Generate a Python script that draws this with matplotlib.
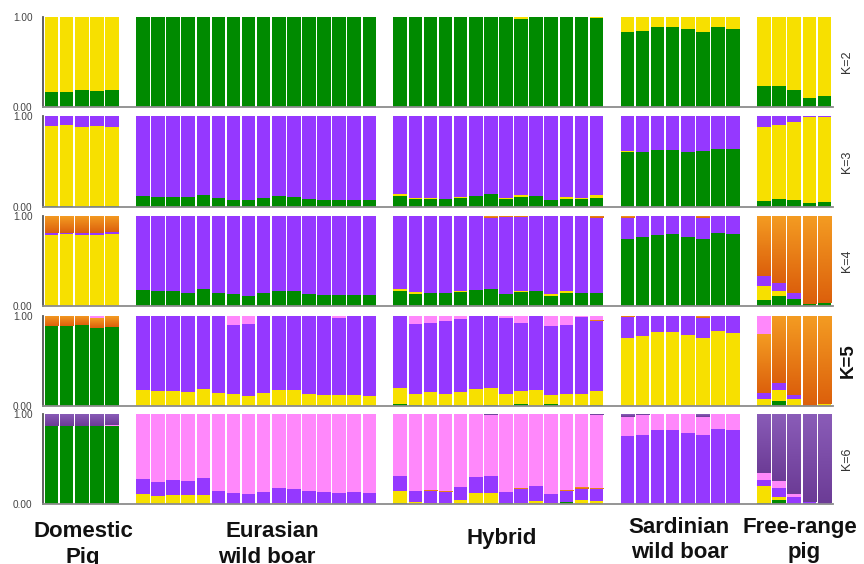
import numpy as np
import matplotlib
matplotlib.use('Agg')
import matplotlib.pyplot as plt
from matplotlib.colors import LinearSegmentedColormap

plt.rcParams['font.family'] = ['Liberation Sans', 'DejaVu Sans']

# groups along the x axis
group_lines = [['Domestic', 'Pig'], ['Eurasian', 'wild boar'], ['Hybrid'],
               ['Sardinian', 'wild boar'], ['Free-range', 'pig']]
group_sizes = [5, 16, 14, 8, 5]
k_labels = ['K=2', 'K=3', 'K=4', 'K=5', 'K=6']

GREEN = '#008a00'
YELLOW = '#f7e000'
PURPLE = '#9538ff'
ORANGE = '#e87a14'
PINK = '#ff88fb'
DPURPLE = '#7e4dac'

# ancestry fractions per individual: dom(5) | eur(16) | hyb(14) | sar(8) | free(5)
# None = remainder of the bar

# K=2
k2_green = [0.17, 0.17, 0.185, 0.175, 0.19,
            1, 1, 1, 1, 1, 1, 1, 1, 1, 1, 1, 1, 1, 1, 1, 1,
            1, 1, 1, 1, 1, 1, 1, 1, 0.98, 1, 1, 1, 1, 0.99,
            0.83, 0.85, 0.89, 0.89, 0.87, 0.83, 0.89, 0.87,
            0.23, 0.23, 0.19, 0.10, 0.12]

# K=3
k3_green = [0.007, 0.007, 0.003, 0.007, 0.015,
            0.118, 0.110, 0.110, 0.110, 0.129, 0.103, 0.081, 0.074,
            0.103, 0.118, 0.110, 0.092, 0.081, 0.081, 0.081, 0.081,
            0.118, 0.092, 0.092, 0.092, 0.103, 0.121, 0.140, 0.085, 0.110, 0.121, 0.081, 0.092, 0.092, 0.100,
            0.607, 0.607, 0.625, 0.625, 0.607, 0.614, 0.632, 0.632,
            0.066, 0.092, 0.074, 0.044, 0.055]
k3_yellow = [0.883, 0.893, 0.879, 0.883, 0.867,
             0, 0, 0, 0, 0, 0, 0, 0, 0, 0, 0, 0, 0, 0, 0, 0,
             0.022, 0.010, 0.005, 0, 0.005, 0.005, 0.008, 0.018, 0.018, 0, 0, 0.015, 0.005, 0.030,
             0.006, 0, 0, 0, 0, 0.006, 0, 0,
             0.809, 0.809, 0.863, 0.941, 0.930]

# K=4
k4_green = [0, 0, 0, 0, 0,
            0.179, 0.168, 0.168, 0.150, 0.190, 0.147, 0.136, 0.114,
            0.150, 0.168, 0.168, 0.136, 0.125, 0.125, 0.125, 0.125,
            0.172, 0.136, 0.150, 0.147, 0.154, 0.180, 0.190, 0.136, 0.154, 0.172, 0.110, 0.139, 0.147, 0.147,
            0.740, 0.762, 0.788, 0.795, 0.769, 0.740, 0.806, 0.795,
            0.066, 0.110, 0.080, 0.018, 0.030]
k4_yellow = [0.791, 0.798, 0.791, 0.791, 0.805,
             0, 0, 0, 0, 0, 0, 0, 0, 0, 0, 0, 0, 0, 0, 0, 0,
             0.022, 0.015, 0, 0, 0.010, 0, 0, 0, 0.015, 0, 0.018, 0.025, 0, 0,
             0, 0, 0, 0, 0, 0, 0, 0,
             0.154, 0.055, 0, 0, 0]
k4_orange = [0.194, 0.187, 0.194, 0.194, 0.180,
             0, 0, 0, 0, 0, 0, 0, 0, 0, 0, 0, 0, 0, 0, 0, 0,
             0, 0, 0, 0, 0, 0, 0.018, 0.008, 0.008, 0, 0, 0, 0, 0.025,
             0.018, 0.005, 0, 0, 0, 0.025, 0, 0,
             0.670, 0.743, 0.861, 0.982, 0.970]

# K=5
k5_green = [0.885, 0.885, 0.896, 0.867, 0.878,
            0.005, 0.005, 0.005, 0.005, 0.005, 0.015, 0.005, 0.005,
            0.005, 0.005, 0.005, 0.005, 0.005, 0.005, 0.005, 0.005,
            0.022, 0.007, 0.005, 0, 0, 0, 0.007, 0, 0.018, 0, 0.018, 0, 0, 0.007,
            0, 0, 0, 0, 0, 0, 0, 0,
            0.015, 0.052, 0, 0.005, 0]
k5_yellow = [0, 0, 0, 0, 0,
             0.176, 0.162, 0.162, 0.151, 0.188, 0.133, 0.125, 0.106,
             0.143, 0.169, 0.169, 0.125, 0.114, 0.114, 0.114, 0.106,
             0.178, 0.130, 0.148, 0.137, 0.155, 0.185, 0.190, 0.137, 0.148, 0.174, 0.100, 0.137, 0.137, 0.155,
             0.756, 0.774, 0.822, 0.822, 0.785, 0.756, 0.830, 0.811,
             0.059, 0.122, 0.074, 0, 0.018]
k5_orange = [0.115, 0.115, 0.104, 0.111, 0.122,
             0, 0, 0, 0, 0, 0, 0, 0, 0, 0, 0, 0, 0, 0, 0, 0,
             0, 0, 0, 0, 0, 0, 0, 0, 0, 0, 0, 0, 0, 0.007,
             0.010, 0, 0, 0, 0, 0.022, 0, 0,
             0.652, 0.745, 0.882, 0.995, 0.982]
k5_pink = [0, 0, 0, 0.022, 0,
           0, 0, 0, 0, 0, 0, 0.096, 0.085, 0, 0, 0, 0.005, 0, 0.022, 0, 0,
           0, 0.085, 0.074, 0.055, 0.037, 0, 0, 0.018, 0.074, 0, 0.111, 0.104, 0.010, 0.048,
           0, 0, 0, 0, 0, 0, 0, 0,
           0.204, 0, 0, 0, 0]

# K=6
k6_green = [0.863, 0.863, 0.863, 0.863, 0.864,
            0, 0, 0, 0, 0, 0, 0, 0, 0, 0, 0, 0, 0.005, 0, 0, 0,
            0.010, 0, 0.005, 0, 0, 0, 0, 0.007, 0.005, 0, 0, 0.022, 0, 0,
            0, 0, 0, 0, 0, 0, 0, 0,
            0.010, 0.040, 0, 0, 0]
k6_yellow = [0, 0, 0, 0, 0,
             0.111, 0.085, 0.104, 0.104, 0.104, 0.005, 0, 0, 0.005, 0.007, 0.005, 0, 0.010, 0, 0.005, 0,
             0.130, 0.018, 0.005, 0.007, 0.048, 0.122, 0.122, 0, 0.010, 0.030, 0.010, 0, 0.048, 0.030,
             0.005, 0, 0, 0, 0, 0, 0, 0,
             0.193, 0.037, 0, 0, 0]
k6_purple = [0, 0, 0, 0, 0,
             0.170, 0.156, 0.159, 0.152, 0.185, 0.137, 0.119, 0.107,
             0.133, 0.167, 0.167, 0.148, 0.120, 0.118, 0.130, 0.118,
             0.167, 0.122, 0.130, 0.126, 0.137, 0.174, 0.185, 0.130, 0.148, 0.167, 0.104, 0.119, 0.119, 0.137,
             0.747, 0.770, 0.819, 0.826, 0.789, 0.763, 0.837, 0.819,
             0.059, 0.100, 0.078, 0.018, 0.015]
k6_orange = [0, 0, 0, 0, 0,
             0, 0, 0, 0, 0, 0, 0, 0, 0, 0, 0, 0, 0, 0, 0, 0,
             0, 0, 0.007, 0.007, 0, 0, 0, 0, 0.007, 0, 0, 0.010, 0.018, 0.007,
             0, 0, 0, 0, 0, 0, 0, 0,
             0, 0, 0, 0, 0]
k6_dpurple = [0.137, 0.137, 0.137, 0.137, 0.118,
              0, 0, 0, 0, 0, 0, 0, 0, 0, 0, 0, 0, 0, 0, 0, 0,
              0, 0, 0, 0, 0, 0, 0.015, 0, 0, 0, 0, 0, 0, 0.015,
              0.033, 0.015, 0, 0, 0, 0.033, 0, 0,
              0.656, 0.741, 0.885, 0.982, 0.985]

rows = [
    [(GREEN, k2_green), (YELLOW, None)],
    [(GREEN, k3_green), (YELLOW, k3_yellow), (PURPLE, None)],
    [(GREEN, k4_green), (YELLOW, k4_yellow), (PURPLE, None), (ORANGE, k4_orange)],
    [(GREEN, k5_green), (YELLOW, k5_yellow), (PURPLE, None), (ORANGE, k5_orange), (PINK, k5_pink)],
    [(GREEN, k6_green), (YELLOW, k6_yellow), (PURPLE, k6_purple), (ORANGE, k6_orange),
     (PINK, None), (DPURPLE, k6_dpurple)],
]

gradients = {
    ORANGE: LinearSegmentedColormap.from_list('org', ['#f49c22', '#dc600c']),
    DPURPLE: LinearSegmentedColormap.from_list('dpu', ['#8a5cb8', '#6c3c96']),
}
grad = np.linspace(0, 1, 64).reshape(-1, 1)

GAP = 1.05
xpos = []
start = 0
for g, n in enumerate(group_sizes):
    for j in range(n):
        xpos.append(start + j + g * GAP)
    start += n
xpos = np.array(xpos) + 0.05
xmax = sum(group_sizes) + (len(group_sizes) - 1) * GAP

W, H = 864, 564
fig = plt.figure(figsize=(W / 100, H / 100), dpi=100)

row_px = [(17, 107), (116, 207), (216, 306), (316, 406), (414, 504)]
left_px, right_px = 43, 833

for r, comps in enumerate(rows):
    top, bot = row_px[r]
    ax = fig.add_axes([left_px / W, (H - bot) / H, (right_px - left_px) / W, (bot - top) / H])
    fixed = sum(np.array(v, dtype=float) for c, v in comps if v is not None)
    bottom = np.zeros(len(xpos))
    for color, vals in comps:
        if vals is None:
            vals = np.clip(1 - fixed, 0, None)
        vals = np.array(vals, dtype=float)
        ax.bar(xpos, vals, width=0.9, bottom=bottom, align='edge', color=color, linewidth=0)
        if color in gradients:
            for x0, b0, v in zip(xpos, bottom, vals):
                if v > 0.004:
                    ax.imshow(grad, extent=[x0, x0 + 0.9, b0, b0 + v], aspect='auto',
                              cmap=gradients[color], interpolation='bilinear', zorder=2)
        bottom = bottom + vals

    ax.set_xlim(-0.07, xmax + 0.07)
    ax.set_ylim(0, 1)
    ax.set_xticks([])
    ax.set_yticks([0, 1])
    ax.set_yticklabels(['0.00', '1.00'])
    ax.tick_params(axis='y', length=0, pad=7.5, labelsize=7.2, labelcolor='#444')
    ax.spines['top'].set_visible(False)
    ax.spines['right'].set_visible(False)
    ax.spines['left'].set_color('#555555')
    ax.spines['left'].set_linewidth(1.3)
    ax.spines['bottom'].set_color('#8c8c8c')
    ax.spines['bottom'].set_linewidth(1.3)

    yc = 1 - (top + bot) / 2 / H
    if k_labels[r] == 'K=5':
        fig.text(848 / W, yc, k_labels[r], rotation=90, ha='center', va='center',
                 fontsize=13.5, fontweight='bold', color='#111')
    else:
        fig.text(847 / W, yc, k_labels[r], rotation=90, ha='center', va='center',
                 fontsize=9, color='#333')

# group labels under the bottom row, one line at a time
label_x = [[83, 83], [272, 267], [502], [679, 680], [800, 804]]
label_base = [[537, 563], [537, 563], [544], [533, 558], [533, 558]]
for lines, xs, ys in zip(group_lines, label_x, label_base):
    for txt, x, y in zip(lines, xs, ys):
        fig.text(x / W, 1 - y / H, txt, ha='center', va='baseline',
                 fontsize=16, fontweight='bold', color='#111')

fig.savefig('out.png', dpi=100)
